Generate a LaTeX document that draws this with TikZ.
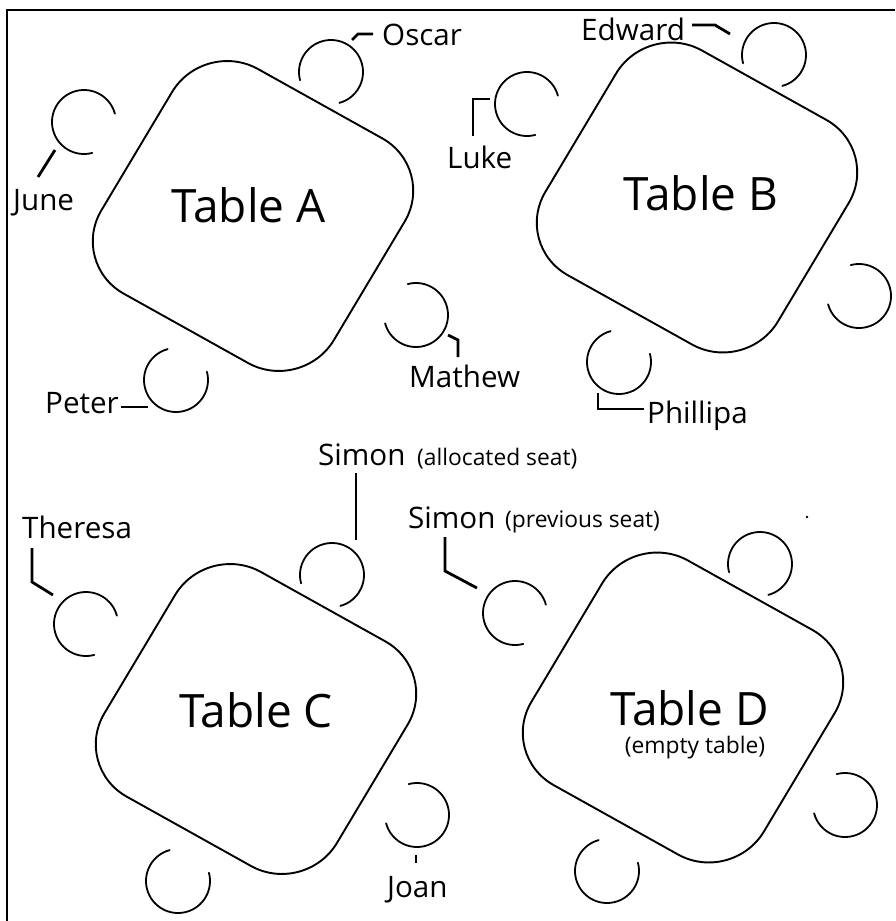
\documentclass[tikz,border=0pt]{standalone}
\usepackage{fontspec}
\setmainfont{Open Sans}
\newcommand\namesize{\fontsize{29.6}{32}\selectfont}
\newcommand\notesize{\fontsize{22.8}{25}\selectfont}
\newcommand\tablesize{\fontsize{46}{50}\selectfont}
\newcommand\seat[3]{\draw[chairline] (#1,#2) ++(#3+45:32pt) arc[start angle=#3+45, end angle=#3+315, radius=32pt];}
\newcommand\roundtable[2]{\draw[tableline, shift={(#1,#2)}, xscale=1.035, rotate=-30, rounded corners=62pt] (-129.7,-129.7) rectangle (129.7,129.7);}
\begin{document}
\begin{tikzpicture}[x=1pt,y=-1pt,
  frameline/.style={line width=2.2pt},
  tableline/.style={line width=1.9pt},
  chairline/.style={line width=1.8pt, line cap=round},
  leader/.style={line width=2.8pt},
  person/.style={font=\namesize, inner sep=0pt, anchor=base west},
  note/.style={font=\notesize, inner sep=0pt, anchor=base west},
  tabletext/.style={font=\tablesize, inner sep=0pt, anchor=base}]
\useasboundingbox (0,0) rectangle (895,921);
\fill[white] (0,0) rectangle (895,921);
\draw[frameline] (7,921) -- (7,10) -- (895,10);

% tables
\roundtable{253}{216}
\roundtable{697}{197.5}
\roundtable{256}{719}
\roundtable{683}{707.5}

\node[tabletext] (tA) at (248.5,222) {Table A};
\node[tabletext] (tB) at (701,210) {Table B};
\node[tabletext] (tC) at (256,727) {Table C};
\node[tabletext] (tD) at (689.5,725) {Table D};
\node[note, anchor=base] (empty) at (695,753) {(empty table)};

% chairs table A
\seat{331}{72}{240}
\seat{84}{122}{330}
\seat{416}{315}{150}
\seat{176}{380}{60}
% chairs table B
\seat{774}{55}{240}
\seat{527}{104}{330}
\seat{859}{296}{150}
\seat{619}{362}{60}
% chairs table C
\seat{332}{575}{240}
\seat{86}{624}{330}
\seat{417}{815}{150}
\seat{178}{881}{60}
% chairs table D
\seat{515}{613}{330}
\seat{760}{564}{240}
\seat{845}{805}{150}
\seat{607}{871}{60}

% names
\node[person] (oscar) at (382,45) {Oscar};
\node[person] (june) at (13,210) {June};
\node[person] (mathew) at (409,387) {Mathew};
\node[person] (peter) at (45,413) {Peter};
\node[person] (edward) at (581,40) {Edward};
\node[person] (luke) at (447,168) {Luke};
\node[person] (phillipa) at (647,423) {Phillipa};
\node[person] (simonA) at (318,465) {Simon};
\node[note] (alloc) at (417,465) {(allocated seat)};
\node[person] (simonP) at (408,528) {Simon};
\node[note] (prev) at (505,527) {(previous seat)};
\node[person] (theresa) at (22,538) {Theresa};
\node[person] (joan) at (387,897) {Joan};

% leaders
\draw[leader] (373,34) -- (358,34) -- (352,40);
\draw[leader] (38,177) -- (55,150);
\draw[leader] (448,335) -- (458,340) -- (458,357);
\draw[leader] (121,407) -- (148,407);
\draw[leader] (692,25) -- (715,25) -- (730,34);
\draw[leader] (473,136) -- (473,99) -- (490,99);
\draw[leader] (644,409) -- (598,409) -- (598,393);
\draw[leader] (356,473) -- (356,540);
\draw[leader] (445,537) -- (445,571) -- (477,588);
\draw[leader] (32,548) -- (32,582) -- (53,595);
\draw[leader] (416,855) -- (416,863);

\fill (807,517) circle[radius=1.3pt];
\end{tikzpicture}
\end{document}
